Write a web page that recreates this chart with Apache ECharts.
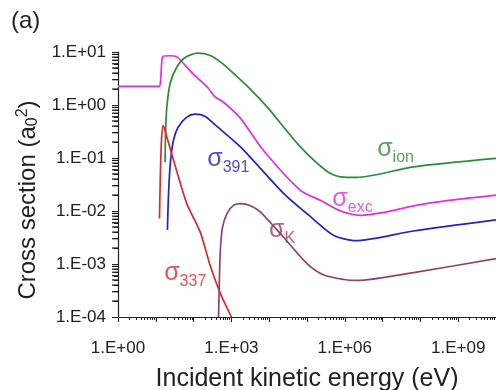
<!DOCTYPE html>
<html><head><meta charset="utf-8">
<script src="https://cdn.jsdelivr.net/npm/echarts@6/dist/echarts.min.js"></script>
<style>html,body{margin:0;padding:0;background:#fff}#c{width:496px;height:390px}</style>
</head><body><div id="c"></div>
<script>
// Incident energy (eV) and cross sections (a0^2)
const excE = [1, 12.2, 13.4, 15.4, 24, 36, 60, 92, 150, 245, 370, 610, 1740, 7000, 6.7e4, 2.3e5, 7.8e5, 2.6e6, 1.2e7, 6.6e7, 6.3e8, 1e10];
const excS = [2.25, 2.25, 2.9, 8.3, 8.5, 8.1, 5.6, 4.0, 2.9, 2.07, 1.42, 1.14, 0.56, 0.14, 0.0245, 0.0158, 0.0100, 0.0083, 0.0095, 0.0125, 0.016, 0.020];

const ionE = [17.6, 18.2, 19.6, 24, 36, 60, 127, 275, 575, 1120, 3160, 8900, 6.7e4, 3.5e5, 7.8e5, 2.1e6, 6.6e7, 1e10];
const ionS = [0.083, 0.33, 0.91, 2.57, 5.2, 7.9, 9.5, 8.6, 6.1, 4.0, 2.0, 0.91, 0.162, 0.055, 0.044, 0.043, 0.068, 0.098];

const e391 = [20.3, 21.9, 24.7, 29.3, 39, 66, 110, 204, 373, 1740, 2.4e4, 1.24e5, 5e5, 1.9e6, 6.6e7, 1e10];
const s391 = [0.0044, 0.0245, 0.091, 0.214, 0.38, 0.59, 0.67, 0.61, 0.42, 0.162, 0.0215, 0.0078, 0.0035, 0.00275, 0.0042, 0.0068];

const e337 = [12.5, 13.1, 14.1, 15.6, 17.6, 19.6, 32.4, 66, 150, 275, 510, 1000];
const s337 = [0.0072, 0.038, 0.21, 0.41, 0.33, 0.25, 0.072, 0.0138, 0.004, 0.00093, 0.00028, 0.0001];

const eK = [457, 480, 510, 575, 760, 1150, 1740, 3200, 5900, 2.4e4, 1e5, 2.8e5, 9.5e5, 2.1e6, 6.6e7, 1e10];
const sK = [0.0001, 0.00049, 0.0018, 0.0047, 0.0089, 0.0129, 0.0138, 0.0126, 0.0095, 0.0032, 0.00102, 0.00062, 0.00051, 0.00049, 0.00069, 0.00126];

// curve labels (sigma with subscript), at data coordinates
const labelSub = ['ion', 'exc', '391', 'K', '337'];
const labelE = [2.2e7, 1.6e6, 830, 2.2e4, 60];
const labelS = [0.14, 0.016, 0.091, 0.004, 0.00062];

// axis ranges
const xMin = 1, xMax = 1e10;
const yMin = 1e-4, yMax = 10;
// unit scale so the log axis works on values >= 1 (labels show true values)
const yUnit = 1 / yMin;

const colors = {ion: '#2e8b3a', exc: '#e22ee2', '391': '#2323c0', '337': '#d82a2a', K: '#8e4468'};
const seriesDefs = [
  ['exc', excE, excS], ['ion', ionE, ionS], ['391', e391, s391], ['337', e337, s337], ['K', eK, sK]
];

function expLabel(v) {
  const e = Math.round(Math.log10(v));
  const a = Math.abs(e);
  return '1.E' + (e < 0 ? '-' : '+') + (a < 10 ? '0' : '') + a;
}
const font = 'Liberation Sans, Arial, Helvetica, sans-serif';

// y minor tick values: 2..9 x each decade
const yMinorTicks = [];
for (let k = Math.round(Math.log10(yMin)); k < Math.round(Math.log10(yMax)); k++) {
  for (let m = 2; m <= 9; m++) yMinorTicks.push(m * Math.pow(10, k) * yUnit);
}

const chart = echarts.init(document.getElementById('c'), null, {renderer: 'canvas'});
const series = seriesDefs.map(([k, xs, ys]) => ({
  type: 'line', name: k, data: xs.map((x, i) => [x, ys[i] * yUnit]),
  showSymbol: false, smooth: 0.25, clip: true,
  lineStyle: {color: colors[k], width: 1.7}, itemStyle: {color: colors[k]}
}));
series.push({
  type: 'scatter', symbolSize: 0, silent: true,
  data: labelSub.map((s, i) => ({
    value: [labelE[i], labelS[i] * yUnit],
    label: {
      show: true, position: 'inside', formatter: '{s|σ}{b|' + s + '}',
      rich: {
        s: {fontSize: 25, lineHeight: 28, color: colors[s], fontFamily: font, verticalAlign: 'top'},
        b: {fontSize: 16, lineHeight: 16, color: colors[s], fontFamily: font, verticalAlign: 'top', padding: [13, 0, 0, 0]}
      }
    }
  }))
});
// minor ticks of the y axis, placed by the y scale as short bars left of the axis
series.push({
  type: 'scatter', silent: true, clip: false, z: 10, zlevel: 0,
  symbol: 'rect', symbolSize: [6, 1.2], symbolOffset: [-3, 0],
  itemStyle: {color: '#111', opacity: 1, borderWidth: 0},
  emphasis: {disabled: true},
  data: yMinorTicks.map(v => [xMin, v])
});

chart.setOption({
  animation: false,
  textStyle: {fontFamily: font},
  grid: {left: 118, right: 0, top: 52, bottom: 73, containLabel: false, outerBoundsMode: 'none'},
  graphic: [
    {type: 'text', left: 11, top: 9, style: {text: '(a)', fontSize: 24, fontFamily: font, fill: '#222'}},
    {type: 'text', x: 28, y: 200, rotation: Math.PI / 2,
      style: {text: 'Cross section (a{sub|0}{sup|2})', fontSize: 24, fontFamily: font, fill: '#222',
        align: 'center', verticalAlign: 'middle',
        rich: {sub: {fontSize: 16, fill: '#222', fontFamily: font, verticalAlign: 'bottom', padding: [8, 0, 0, 0]},
               sup: {fontSize: 16, fill: '#222', fontFamily: font, verticalAlign: 'top', padding: [0, 0, 10, 0]}}}}
  ],
  xAxis: {
    type: 'log', logBase: 10, min: xMin, max: xMax, interval: 1, splitNumber: 10,
    name: 'Incident kinetic energy (eV)', nameLocation: 'middle', nameGap: 50,
    nameTextStyle: {fontSize: 25, color: '#222', fontFamily: font},
    axisLine: {lineStyle: {color: '#222', width: 1.2}},
    axisTick: {show: true, length: 5, lineStyle: {color: '#222'}},
    minorTick: {show: true, splitNumber: 9, length: 3, lineStyle: {color: '#222'}},
    splitLine: {show: false},
    axisLabel: {fontSize: 17, color: '#222', margin: 23, showMinLabel: true, showMaxLabel: true, interval: 0, hideOverlap: false,
      formatter: v => (Math.round(Math.log10(v)) % 3 === 0 && Math.round(Math.log10(v)) < 10) ? expLabel(v) : ''}
  },
  yAxis: {
    type: 'log', logBase: 10, min: yMin * yUnit, max: yMax * yUnit, interval: 1, splitNumber: 5,
    axisLine: {show: true, lineStyle: {color: '#222', width: 1.2}},
    axisTick: {show: true, length: 6, lineStyle: {color: '#222'}},
    minorTick: {show: true, splitNumber: 9, length: 4, lineStyle: {color: '#222'}},
    splitLine: {show: false},
    axisLabel: {fontSize: 17, color: '#222', margin: 12, showMinLabel: true, showMaxLabel: true,
      formatter: v => expLabel(v / yUnit)}
  },
  series: series
});
</script></body></html>
